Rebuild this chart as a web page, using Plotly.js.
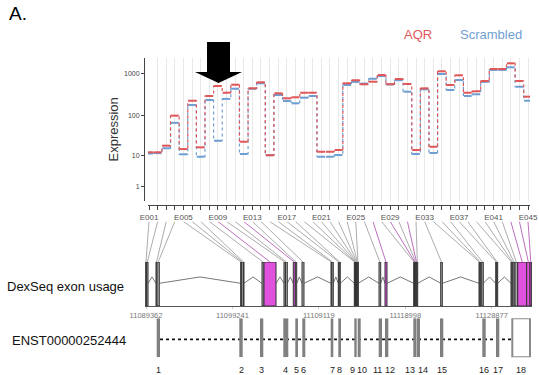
<!DOCTYPE html>
<html><head><meta charset="utf-8">
<script src="https://cdn.plot.ly/plotly-3.0.1.min.js"></script>
<style>html,body{margin:0;padding:0;background:#fff}#chart{width:539px;height:375px}</style>
</head><body><div id="chart"></div>
<script>
// ---------------- data ----------------
const exonBins = ['E001','E002','E003','E004','E005','E006','E007','E008','E009','E010',
  'E011','E012','E013','E014','E015','E016','E017','E018','E019','E020',
  'E021','E022','E023','E024','E025','E026','E027','E028','E029','E030',
  'E031','E032','E033','E034','E035','E036','E037','E038','E039','E040',
  'E041','E042','E043','E044','E045'];
const labelledBins = ['E001','E005','E009','E013','E017','E021','E025','E029','E033','E037','E041','E045'];
const aqr = [12.4,12.4,18.3,100,15,229,16.6,297,516,356,554,23,453,632,10.4,344,261,276,356,356,
  12.8,12.8,14.2,598,706,566,654,946,566,758,576,14.2,452,17.2,1160,545,930,356,385,680,
  1318,1318,1800,680,286];
const scrambled = [11.5,11.8,15.7,67,11,180,9.5,238,24.3,253,444,11.2,444,598,10.4,314,225,198,271,297,
  9.5,9.5,10.5,545,645,590,770,890,566,710,377,11.2,430,11.9,1000,413,717,297,326,650,
  1250,1250,1445,496,229];
const yTickValues = [1,10,100,1000];
// genomic extent of each DEXSeq exon bin
const binStart = [11089282,11089436,11090505,11090620,11100186,11100262,11100490,11102621,11102849,11105135,
  11105300,11106198,11106430,11107193,11110508,11110600,11111342,11111450,11113171,11113236,
  11113301,11113366,11113431,11113496,11113561,11115994,11116680,11119960,11120051,11120142,
  11120233,11120324,11123046,11127424,11127520,11127733,11129333,11129450,11131082,11131200,
  11131320,11131540,11131847,11132876,11133253];
const binEnd = [11089436,11089591,11090620,11090882,11100262,11100490,11100563,11102849,11104221,11105300,
  11105513,11106430,11106587,11107421,11110600,11110770,11111450,11111570,11113236,11113301,
  11113366,11113431,11113496,11113561,11113628,11116188,11116908,11120051,11120142,11120233,
  11120324,11120417,11123229,11127520,11127618,11127915,11129450,11129561,11131200,11131320,
  11131540,11131847,11132876,11133253,11133440];
const sigBins = ['E009','E012','E027','E029','E031','E043','E044','E045'];
// transcript ENST00000252444 exons
const txName = 'ENST00000252444';
const txExonLabels = ['1','2','3','4','5','6','7','8','9','10','11','12','13','14','15','16','17','18'];
const txExonStart = [11090585,11100026,11102392,11105055,11106427,11107227,11110473,11111342,11113171,11113559,
  11115960,11116680,11119914,11120326,11122966,11127801,11129367,11131230];
const txExonEnd = [11090962,11100415,11102769,11105627,11106736,11107570,11110770,11111651,11113445,11113902,
  11116337,11117057,11120280,11120680,11123343,11128190,11129744,11133253];
const coordTicks = [11089362,11099241,11109119,11118998,11128877];

// ---------------- geometry helpers ----------------
const W = 539, H = 375;
const fx = p => p / W, fy = p => 1 - p / H;
const X_DOM = [148, 530], X_RANGE = [0.884, 45.23];
const G_DOM = [145, 532], G_RANGE = [11089248, 11133482];
const Y_DOM = [201, 58], Y_RANGE = [-0.038, 3.383];
const tf = v => Math.log10(v + 1);              // log10(x+1) scale
const gToPx = g => G_DOM[0] + (g - G_RANGE[0]) / (G_RANGE[1] - G_RANGE[0]) * (G_DOM[1] - G_DOM[0]);
const idxToGenome = i => {                      // exon-axis unit -> genomic-axis unit (both share pixel space)
  const px = X_DOM[0] + (i - X_RANGE[0]) / (X_RANGE[1] - X_RANGE[0]) * (X_DOM[1] - X_DOM[0]);
  return G_RANGE[0] + (px - G_DOM[0]) / (G_DOM[1] - G_DOM[0]) * (G_RANGE[1] - G_RANGE[0]);
};

const RED = '#e0575a', BLUE = '#6f9fd2';
const idx = exonBins.map((_, i) => i + 1);

function stepTraces(vals, color) {
  const xs = [], ys = [], xh = [], yh = [];
  vals.forEach((v, k) => {
    const i = idx[k];
    xs.push(i - 0.5, i + 0.5); ys.push(tf(v), tf(v));
    xh.push(i - 0.45, i + 0.45, null); yh.push(tf(v), tf(v), null);
  });
  return [
    {x: xs, y: ys, type: 'scatter', mode: 'lines', line: {color: color, width: 1.2, dash: 'dot'}, hoverinfo: 'skip', xaxis: 'x', yaxis: 'y'},
    {x: xh, y: yh, type: 'scatter', mode: 'lines', line: {color: color, width: 2}, hoverinfo: 'skip', xaxis: 'x', yaxis: 'y', connectgaps: false}
  ];
}

const traces = [...stepTraces(scrambled, BLUE), ...stepTraces(aqr, RED)];

// connector lines exon axis -> gene model
const conn = {x: [], y: []}, connSig = {x: [], y: []};
exonBins.forEach((b, k) => {
  const t = sigBins.includes(b) ? connSig : conn;
  t.x.push(idxToGenome(idx[k]), (binStart[k] + binEnd[k]) / 2, null);
  t.y.push(1, 0, null);
});
traces.push({x: conn.x, y: conn.y, type: 'scatter', mode: 'lines', line: {color: '#a3a3a3', width: 0.9}, hoverinfo: 'skip', xaxis: 'x2', yaxis: 'y3'});
traces.push({x: connSig.x, y: connSig.y, type: 'scatter', mode: 'lines', line: {color: '#b65fb6', width: 0.9}, hoverinfo: 'skip', xaxis: 'x2', yaxis: 'y3'});

// introns in gene model
const intr = {x: [], y: []};
for (let k = 0; k < binStart.length - 1; k++) {
  const a = binEnd[k], b = binStart[k + 1];
  if (b - a > 300) { intr.x.push(a, (a + b) / 2, b, null); intr.y.push(0.516, 0.66, 0.516, null); }
}
traces.push({x: intr.x, y: intr.y, type: 'scatter', mode: 'lines', line: {color: '#777', width: 1}, hoverinfo: 'skip', xaxis: 'x2', yaxis: 'y2'});

// transcript backbone
traces.push({x: [txExonEnd[0], txExonStart[txExonStart.length - 1]], y: [0.46, 0.46], type: 'scatter', mode: 'lines',
  line: {color: '#111', width: 1.6, dash: 'dot'}, hoverinfo: 'skip', xaxis: 'x2', yaxis: 'y4'});

const shapes = [];
exonBins.forEach((b, k) => {
  const sig = sigBins.includes(b);
  shapes.push({type: 'rect', xref: 'x2', yref: 'y2', x0: binStart[k], x1: binEnd[k], y0: 0, y1: 1,
    fillcolor: sig ? '#e052de' : '#aaaaaa', line: {color: '#333', width: 1}});
});
txExonStart.forEach((s, k) => {
  const last = k === txExonStart.length - 1;
  shapes.push({type: 'rect', xref: 'x2', yref: 'y4', x0: s, x1: txExonEnd[k], y0: 0, y1: 1,
    fillcolor: last ? '#ffffff' : '#808080', line: last ? {color: '#8a8a8a', width: 2} : {width: 0}});
});
// pointer arrow
const ap = [[207,42],[230,42],[230,72],[242,72],[218.5,83],[195,72],[207,72]];
shapes.push({type: 'path', xref: 'paper', yref: 'paper', fillcolor: '#000', line: {width: 0},
  path: 'M' + ap.map(p => fx(p[0]).toFixed(5) + ',' + fy(p[1]).toFixed(5)).join('L') + 'Z'});

const annotations = [
  {text: 'A.', x: fx(7), y: fy(14), xref: 'paper', yref: 'paper', xanchor: 'left', yanchor: 'middle', showarrow: false, font: {size: 19, color: '#000'}},
  {text: 'AQR', x: fx(418), y: fy(34), xref: 'paper', yref: 'paper', xanchor: 'center', yanchor: 'middle', showarrow: false, font: {size: 13, color: RED}},
  {text: 'Scrambled', x: fx(491), y: fy(34), xref: 'paper', yref: 'paper', xanchor: 'center', yanchor: 'middle', showarrow: false, font: {size: 13, color: BLUE}},
  {text: 'Expression', x: fx(112.5), y: fy(130), xref: 'paper', yref: 'paper', xanchor: 'center', yanchor: 'middle', textangle: -90, showarrow: false, font: {size: 13, color: '#333'}},
  {text: 'DexSeq exon usage', x: fx(5), y: fy(286), xref: 'paper', yref: 'paper', xanchor: 'left', yanchor: 'middle', showarrow: false, font: {size: 13, color: '#111'}},
  {text: txName, x: fx(10), y: fy(340), xref: 'paper', yref: 'paper', xanchor: 'left', yanchor: 'middle', showarrow: false, font: {size: 13, color: '#111'}}
];
// exon number labels: spread apart where crowded (pixel-space relaxation)
const centers = txExonLabels.map((l, k) => gToPx((txExonStart[k] + txExonEnd[k]) / 2));
const pos = centers.slice();
const wid = txExonLabels.map(l => l.length * 5);
for (let it = 0; it < 60; it++) {
  for (let k = 0; k < pos.length - 1; k++) {
    const need = (wid[k] + wid[k + 1]) / 2 + 2.5;
    const gap = pos[k + 1] - pos[k];
    if (gap < need) { const d = (need - gap) / 2; pos[k] -= d; pos[k + 1] += d; }
  }
}
txExonLabels.forEach((l, k) => annotations.push({text: l, x: (txExonStart[k] + txExonEnd[k]) / 2, y: fy(370), xref: 'x2', yref: 'paper',
  xshift: pos[k] - centers[k], xanchor: 'center', yanchor: 'middle', showarrow: false, font: {size: 9, color: '#222'}}));

const layout = {
  width: W, height: H, margin: {l: 0, r: 0, t: 0, b: 0}, paper_bgcolor: '#fff', plot_bgcolor: 'rgba(0,0,0,0)',
  showlegend: false, font: {family: 'Liberation Sans, Arial, sans-serif'},
  xaxis: {domain: [fx(X_DOM[0]), fx(X_DOM[1])], range: X_RANGE, anchor: 'free', position: fy(205),
    tickvals: idx, ticktext: exonBins.map(b => labelledBins.includes(b) ? b : ''), tickangle: 0,
    ticks: 'outside', ticklen: 4, tickcolor: '#444', showline: true, linecolor: '#444', linewidth: 1,
    showgrid: true, gridcolor: '#e8e8e8', gridwidth: 1, zeroline: false, tickfont: {size: 8, color: '#555'}, fixedrange: true},
  yaxis: {domain: [fy(Y_DOM[0]), fy(Y_DOM[1])], range: Y_RANGE, anchor: 'free', position: fx(144),
    tickvals: yTickValues.map(tf), ticktext: yTickValues.map(String), ticks: 'outside', ticklen: 3, tickcolor: '#444',
    showline: true, linecolor: '#444', linewidth: 1, showgrid: false, zeroline: false, tickfont: {size: 7, color: '#444'}, fixedrange: true},
  xaxis2: {domain: [fx(G_DOM[0]), fx(G_DOM[1])], range: G_RANGE, anchor: 'y2', showline: true, linecolor: '#555', linewidth: 1,
    tickvals: coordTicks, ticktext: coordTicks.map(String), ticks: 'outside', ticklen: 2, tickcolor: '#ccc',
    tickfont: {size: 7.5, color: '#777'}, showgrid: false, zeroline: false, fixedrange: true},
  yaxis2: {domain: [fy(306), fy(262)], range: [0, 1], anchor: 'x2', visible: false, fixedrange: true},
  yaxis3: {domain: [fy(262), fy(221.5)], range: [0, 1], anchor: 'x2', visible: false, fixedrange: true},
  yaxis4: {domain: [fy(357.3), fy(318.3)], range: [0, 1], anchor: 'x2', visible: false, fixedrange: true},
  shapes: shapes, annotations: annotations
};
Plotly.newPlot('chart', traces, layout, {displayModeBar: false, staticPlot: true});
</script></body></html>
